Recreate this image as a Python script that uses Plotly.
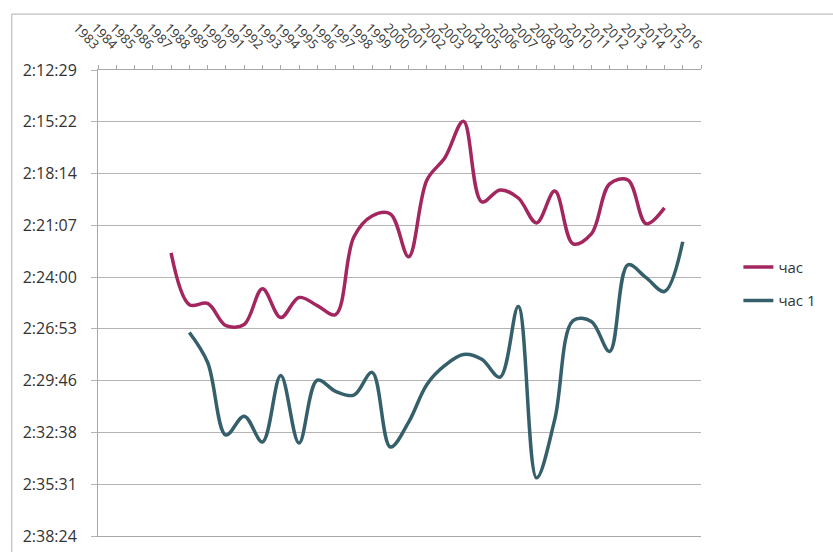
import plotly.graph_objects as go

years = list(range(1983, 2017))

years_chas = list(range(1987, 2015))
chas = ["2:22:39", "2:25:32", "2:25:28", "2:26:42", "2:26:38", "2:24:39", "2:26:15",
        "2:25:08", "2:25:35", "2:26:05", "2:21:46", "2:20:36", "2:20:29", "2:22:52",
        "2:18:36", "2:17:20", "2:15:20", "2:19:49", "2:19:09", "2:19:36", "2:20:59",
        "2:19:13", "2:22:09", "2:21:36", "2:18:49", "2:18:36", "2:21:02", "2:20:09"]

years_chas1 = list(range(1988, 2016))
chas1 = ["2:27:05", "2:28:45", "2:32:47", "2:31:44", "2:33:10", "2:29:28", "2:33:14",
         "2:29:44", "2:30:21", "2:30:34", "2:29:18", "2:33:27", "2:32:04", "2:29:58",
         "2:28:54", "2:28:18", "2:28:34", "2:29:34", "2:25:38", "2:35:10", "2:31:54",
         "2:26:25", "2:26:28", "2:28:08", "2:23:19", "2:24:02", "2:24:48", "2:22:02"]

y_ticks = ["2:12:29", "2:15:22", "2:18:14", "2:21:07", "2:24:00", "2:26:53",
           "2:29:46", "2:32:38", "2:35:31", "2:38:24"]
y_min_days, y_max_days, y_step_days = 0.092, 0.110, 0.002


def to_sec(s):
    h, m, sec = (int(p) for p in s.split(":"))
    return h * 3600 + m * 60 + sec


DAY = 86400
tickvals = [(y_min_days + i * y_step_days) * DAY for i in range(len(y_ticks))]

fig = go.Figure()
fig.add_trace(go.Scatter(
    x=years_chas, y=[to_sec(v) for v in chas], name="час", mode="lines",
    line=dict(color="#a3275e", width=3.5, shape="spline", smoothing=1.0),
    legendgroup="a"))
fig.add_trace(go.Scatter(
    x=years_chas1, y=[to_sec(v) for v in chas1], name="час 1", mode="lines",
    line=dict(color="#35606b", width=3.5, shape="spline", smoothing=1.0),
    legendgroup="b"))

fig.update_layout(
    width=833, height=552,
    margin=dict(l=98, r=132, t=70, b=16, autoexpand=False),
    paper_bgcolor="white", plot_bgcolor="white",
    font=dict(family="Open Sans", color="#333333"),
    showlegend=True,
    legend=dict(x=1.062, y=0.612, xanchor="left", yanchor="top",
                font=dict(size=15, color="#333333"), itemwidth=30,
                traceorder="grouped", tracegroupgap=11, bgcolor="rgba(0,0,0,0)"),
    xaxis=dict(side="top", range=[years[0], years[-1]], tickmode="array",
               tickvals=years, ticktext=[str(y) for y in years], tickangle=45,
               tickfont=dict(size=13, color="#333333"), showgrid=False,
               showline=True, linecolor="#a8a8a8", linewidth=1, mirror=True,
               ticks="outside", ticklen=4, tickcolor="#a8a8a8", zeroline=False,
               ticklabelstandoff=8),
    yaxis=dict(range=[tickvals[-1], tickvals[0]], tickmode="array",
               tickvals=tickvals, ticktext=y_ticks,
               tickfont=dict(size=16, color="#333333"),
               showgrid=True, gridcolor="#b4b4b4", gridwidth=1,
               showline=True, linecolor="#a8a8a8", linewidth=1,
               ticks="outside", ticklen=6, tickcolor="#b4b4b4", zeroline=False,
               ticklabelstandoff=11),
)

# outer chart frame (left and top edges visible in the scan)
fig.add_shape(type="line", xref="paper", yref="paper", x0=-0.143, x1=-0.143,
              y0=-0.1, y1=1.12, line=dict(color="#b0b0b0", width=1))
fig.add_shape(type="line", xref="paper", yref="paper", x0=-0.143, x1=1.22,
              y0=1.12, y1=1.12, line=dict(color="#b0b0b0", width=1))

fig.write_html("out.html")
